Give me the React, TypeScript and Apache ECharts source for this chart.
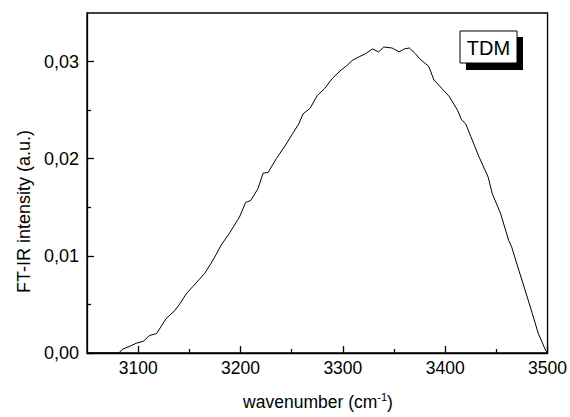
import React, { useEffect, useRef } from "react";
import * as echarts from "echarts";

const wavenumbers = [
  3050, 3081, 3085, 3092, 3098, 3105, 3111, 3118, 3127, 3136, 3141, 3147, 3153, 3160, 3165,
  3171, 3176, 3181, 3189, 3199, 3205, 3210, 3217, 3222, 3227, 3235, 3244, 3251, 3257, 3261,
  3268, 3275, 3282, 3290, 3298, 3304, 3309, 3316, 3322, 3329, 3335, 3340, 3348, 3355, 3360,
  3365, 3371, 3375, 3384, 3389, 3397, 3404, 3412, 3416, 3420, 3425, 3433, 3442, 3446, 3454,
  3462, 3465, 3472, 3478, 3485, 3491, 3498, 3500,
];
const intensity = [
  0, 0, 0.0004, 0.0007, 0.001, 0.0012, 0.0018, 0.002, 0.0035, 0.0044, 0.0051, 0.0061, 0.0068,
  0.0076, 0.0082, 0.0092, 0.0101, 0.0111, 0.0123, 0.014, 0.0155, 0.0157, 0.0169, 0.0185, 0.0186,
  0.02, 0.0214, 0.0226, 0.0236, 0.0246, 0.0252, 0.0265, 0.0272, 0.0283, 0.0291, 0.0296, 0.0301,
  0.0305, 0.0308, 0.0313, 0.031, 0.0315, 0.0314, 0.031, 0.0313, 0.0314, 0.0308, 0.0303, 0.0295,
  0.0281, 0.0272, 0.0264, 0.025, 0.024, 0.0236, 0.0223, 0.0202, 0.0181, 0.0164, 0.0144, 0.0116,
  0.0109, 0.0085, 0.0065, 0.0041, 0.002, 0.0003, 0,
];
const xMajorTicks = [3100, 3200, 3300, 3400, 3500];
const xMinorTicks = [3150, 3250, 3350, 3450];
const yMajorTicks = [0, 0.01, 0.02, 0.03];
const yMinorTicks = [0.005, 0.015, 0.025];
const xTitle = "wavenumber (cm";
const xTitleSup = "-1";
const yTitle = "FT-IR intensity (a.u.)";
const legendLabel = "TDM";

const FONT = "'Liberation Sans', Arial, sans-serif";

export default function App() {
  const ref = useRef<HTMLDivElement>(null);
  useEffect(() => {
    if (!ref.current) return;
    const chart = echarts.init(ref.current, null, { renderer: "svg" });
    const axisLine = { show: true, lineStyle: { color: "#000", width: 1.3 } };
    chart.setOption({
      animation: false,
      backgroundColor: "#fff",
      grid: {
        left: 87,
        right: 21,
        top: 13,
        bottom: 64,
        show: true,
        borderColor: "#000",
        borderWidth: 1.3,
        backgroundColor: "transparent",
      },
      xAxis: [
        {
          type: "value",
          min: 3050,
          max: 3500,
          position: "bottom",
          axisLine,
          splitLine: { show: false },
          axisTick: {
            show: true,
            inside: true,
            length: 7,
            customValues: xMajorTicks,
            lineStyle: { color: "#000", width: 1.3 },
          },
          axisLabel: {
            show: true,
            customValues: xMajorTicks,
            margin: 6,
            color: "#000",
            fontSize: 17.5,
            fontFamily: FONT,
            formatter: (v: number) => String(v),
          },
        },
        {
          type: "value",
          min: 3050,
          max: 3500,
          position: "bottom",
          axisLine: { show: false },
          splitLine: { show: false },
          axisLabel: { show: false },
          axisTick: {
            show: true,
            inside: true,
            length: 4,
            customValues: xMinorTicks,
            lineStyle: { color: "#000", width: 1.3 },
          },
        },
      ],
      yAxis: [
        {
          type: "value",
          min: 0,
          max: 0.035,
          position: "left",
          axisLine,
          splitLine: { show: false },
          axisTick: {
            show: true,
            inside: true,
            length: 7,
            customValues: yMajorTicks,
            lineStyle: { color: "#000", width: 1.3 },
          },
          axisLabel: {
            show: true,
            customValues: yMajorTicks,
            margin: 8,
            color: "#000",
            fontSize: 18,
            fontFamily: FONT,
            formatter: (v: number) => v.toFixed(2).replace(".", ","),
          },
        },
        {
          type: "value",
          min: 0,
          max: 0.035,
          position: "left",
          axisLine: { show: false },
          splitLine: { show: false },
          axisLabel: { show: false },
          axisTick: {
            show: true,
            inside: true,
            length: 4,
            customValues: yMinorTicks,
            lineStyle: { color: "#000", width: 1.3 },
          },
        },
      ],
      series: [
        {
          type: "line",
          xAxisIndex: 0,
          yAxisIndex: 0,
          data: wavenumbers.map((w, i) => [w, intensity[i]]),
          showSymbol: false,
          symbol: "none",
          lineStyle: { color: "#000", width: 1 },
          z: 3,
        },
      ],
      graphic: [
        {
          type: "text",
          x: 24,
          y: 293,
          rotation: Math.PI / 2,
          style: {
            text: yTitle,
            fill: "#000",
            font: `18px ${FONT}`,
            textAlign: "left",
            textVerticalAlign: "middle",
          },
        },
        {
          type: "text",
          x: 318,
          y: 401,
          style: {
            text: `{a|${xTitle}}{b|${xTitleSup}}{a|)}`,
            fill: "#000",
            textAlign: "center",
            textVerticalAlign: "middle",
            rich: {
              a: { fontSize: 17.5, fontFamily: FONT, fill: "#000", verticalAlign: "bottom" },
              b: { fontSize: 11, fontFamily: FONT, fill: "#000", verticalAlign: "top", padding: [0, 0, 8, 0] },
            },
          },
        },
        {
          type: "rect",
          shape: { x: 466, y: 37, width: 57, height: 33 },
          style: { fill: "#000" },
          z: 10,
        },
        {
          type: "rect",
          shape: { x: 460, y: 31, width: 57, height: 32 },
          style: { fill: "#fff", stroke: "#000", lineWidth: 1 },
          z: 11,
        },
        {
          type: "text",
          x: 488.5,
          y: 47.5,
          style: {
            text: legendLabel,
            fill: "#000",
            font: `20px ${FONT}`,
            textAlign: "center",
            textVerticalAlign: "middle",
          },
          z: 12,
        },
      ],
    });
    return () => chart.dispose();
  }, []);
  return (
    <div
      ref={ref}
      style={{ position: "absolute", left: 0, top: 0, width: 570, height: 417 }}
    />
  );
}
